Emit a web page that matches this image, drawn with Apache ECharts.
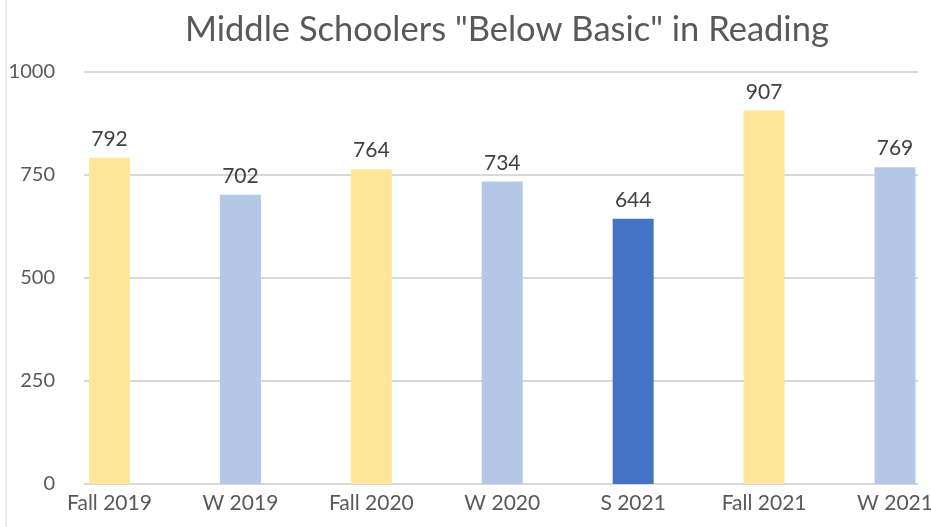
<!DOCTYPE html>
<html>
<head>
<meta charset="utf-8">
<script src="https://cdn.jsdelivr.net/npm/echarts@6/dist/echarts.min.js"></script>
<style>
  html, body { margin: 0; padding: 0; background: #fff; }
  #chart { width: 931px; height: 527px; }
</style>
</head>
<body>
<div id="chart"></div>
<script>
const categories = ['Fall 2019', 'W 2019', 'Fall 2020', 'W 2020', 'S 2021', 'Fall 2021', 'W 2021'];
const values = [792, 702, 764, 734, 644, 907, 769];
const barColors = ['#FFE699', '#B4C7E7', '#FFE699', '#B4C7E7', '#4472C4', '#FFE699', '#B4C7E7'];
const yTicks = [0, 250, 500, 750, 1000];

const chart = echarts.init(document.getElementById('chart'));
const font = 'Lato, "Open Sans", sans-serif';

const option = {
    animation: false,
    title: {
        text: 'Middle Schoolers "Below Basic" in Reading',
        left: 180,
        top: 7,
        textStyle: {color: '#595959', fontSize: 34.5, fontWeight: 'normal', fontFamily: font}
    },
    graphic: [{
        type: 'line',
        shape: {x1: 6, y1: 0, x2: 6, y2: 527},
        style: {stroke: '#d9d9d9', lineWidth: 1}
    }],
    grid: [
        // gridlines + y labels
        {left: 84, right: 13, top: 72, bottom: 43, containLabel: false, outerBoundsMode: 'none'},
        // bars
        {left: 109.5, right: 36, top: 72, bottom: 43, containLabel: false, outerBoundsMode: 'none'}
    ],
    xAxis: [
        {
            gridIndex: 0, type: 'category', data: categories,
            show: false
        },
        {
            gridIndex: 1, type: 'category', data: categories,
            boundaryGap: false,
            axisLine: {show: false},
            axisTick: {show: false},
            axisLabel: {color: '#595959', fontSize: 21, fontFamily: font, margin: 9, interval: 0}
        }
    ],
    yAxis: [
        {
            gridIndex: 0, type: 'value', min: 0, max: 1000, interval: 250,
            axisLine: {show: false},
            axisTick: {show: false},
            axisLabel: {
                color: '#595959', fontSize: 20, fontFamily: font, margin: 29,
                formatter: v => yTicks.includes(v) ? String(v) : ''
            },
            splitLine: {lineStyle: {color: '#d9d9d9', width: 2}}
        },
        {
            gridIndex: 1, type: 'value', min: 0, max: 1000, interval: 250,
            show: false, splitLine: {show: false}
        }
    ],
    series: [{
        type: 'bar',
        xAxisIndex: 1,
        yAxisIndex: 1,
        barWidth: 41,
        data: values.map((v, i) => ({value: v, itemStyle: {color: barColors[i]}})),
        label: {
            show: true,
            position: 'top',
            distance: 8,
            color: '#404040',
            fontSize: 21,
            fontFamily: font
        }
    }]
};

chart.setOption(option);
</script>
</body>
</html>
